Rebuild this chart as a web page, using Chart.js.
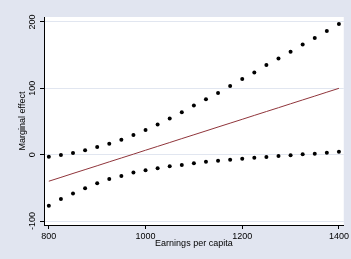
<!DOCTYPE html>
<html>
<head>
<meta charset="utf-8">
<script src="https://cdn.jsdelivr.net/npm/chart.js@4.4.1/dist/chart.umd.min.js"></script>
<style>
  html, body { margin: 0; padding: 0; background: #e1e5f0; }
  #wrap { width: 351px; height: 259px; }
</style>
</head>
<body>
<div id="wrap"><canvas id="chart" width="351" height="259"></canvas></div>
<script>
// earnings per capita values where the effect was evaluated
const earnings = [800, 825, 850, 875, 900, 925, 950, 975, 1000, 1025, 1050, 1075, 1100,
                  1125, 1150, 1175, 1200, 1225, 1250, 1275, 1300, 1325, 1350, 1375, 1400];
// marginal effect (line)
const effect = [-40, -34.2, -28.3, -22.5, -16.7, -10.8, -5, 0.8, 6.7, 12.5, 18.3, 24.2, 30,
                35.8, 41.7, 47.5, 53.3, 59.2, 65, 70.8, 76.7, 82.5, 88.3, 94.2, 100];
// confidence bounds (dots)
const upper = [-3, -0.5, 2.5, 6.5, 11.5, 16.5, 22.5, 29.5, 37, 45.5, 54.5, 64, 74,
               83.5, 93, 103.5, 114, 124, 135, 145, 155, 166, 176, 186.5, 197];
const lower = [-77, -67, -58.5, -50.5, -43, -36.5, -32, -27, -23.5, -20.5, -17.5, -15.5, -13,
               -10.5, -9, -7.5, -6, -4.5, -3.5, -2, -1, 0.5, 1.5, 3, 4.5];

const xTicks = [800, 1000, 1200, 1400];
const yTicks = [-100, 0, 100, 200];

const FONT = 'Liberation Sans, Arial, sans-serif';

const toPoints = (ys) => earnings.map((x, i) => ({ x: x, y: ys[i] }));

// grey outer region + white plot region
const background = {
  id: 'background',
  beforeDraw(chart) {
    const { ctx, chartArea: a } = chart;
    ctx.save();
    ctx.fillStyle = '#e1e5f0';
    ctx.fillRect(0, 0, chart.width, chart.height);
    ctx.fillStyle = '#ffffff';
    ctx.fillRect(a.left, a.top, a.right - a.left, a.bottom - a.top);
    ctx.restore();
  }
};

// vertical y tick labels, the Stata way
const yLabels = {
  id: 'yLabels',
  afterDraw(chart) {
    const { ctx } = chart;
    const ys = chart.scales.y;
    ctx.save();
    ctx.fillStyle = '#000';
    ctx.font = '9px ' + FONT;
    ctx.textAlign = 'center';
    ctx.textBaseline = 'middle';
    yTicks.forEach(v => {
      const py = ys.getPixelForValue(v);
      ctx.save();
      ctx.translate(33, py);
      ctx.rotate(-Math.PI / 2);
      ctx.fillText(String(v), 0, 0);
      ctx.restore();
    });
    ctx.restore();
  }
};

new Chart(document.getElementById('chart'), {
  type: 'scatter',
  data: {
    datasets: [
      {
        data: toPoints(upper),
        pointRadius: 2,
        pointBackgroundColor: '#000',
        pointBorderWidth: 0,
        showLine: false
      },
      {
        data: toPoints(effect),
        showLine: true,
        borderColor: '#90353b',
        borderWidth: 1,
        pointRadius: 0
      },
      {
        data: toPoints(lower),
        pointRadius: 2,
        pointBackgroundColor: '#000',
        pointBorderWidth: 0,
        showLine: false
      }
    ]
  },
  options: {
    responsive: false,
    animation: false,
    layout: { padding: { top: 17, right: 3, left: 0, bottom: 0 } },
    plugins: { legend: { display: false }, tooltip: { enabled: false } },
    scales: {
      x: {
        type: 'linear',
        min: 790,
        max: 1410,
        afterBuildTicks: s => { s.ticks = xTicks.map(v => ({ value: v })); },
        afterFit: s => { s.height = 34; },
        border: { color: '#000', width: 1 },
        grid: { drawOnChartArea: false, drawTicks: true, tickLength: 4, tickColor: '#000' },
        ticks: {
          color: '#000',
          font: { family: FONT, size: 9 },
          padding: 2,
          maxRotation: 0,
          callback: v => String(v)
        },
        title: {
          display: true,
          text: 'Earnings per capita',
          color: '#000',
          font: { family: FONT, size: 9 },
          padding: { top: 0, bottom: 10 }
        }
      },
      y: {
        type: 'linear',
        min: -106,
        max: 207.5,
        afterBuildTicks: s => { s.ticks = yTicks.map(v => ({ value: v })); },
        afterFit: s => { s.width = 44; },
        border: { color: '#000', width: 1 },
        grid: { color: '#e1e6f0', drawTicks: true, tickLength: 4, tickColor: '#000' },
        ticks: { display: false },
        title: {
          display: true,
          text: 'Marginal effect',
          color: '#000',
          font: { family: FONT, size: 9 },
          padding: { top: 17, bottom: 0 }
        }
      }
    }
  },
  plugins: [background, yLabels]
});
</script>
</body>
</html>
